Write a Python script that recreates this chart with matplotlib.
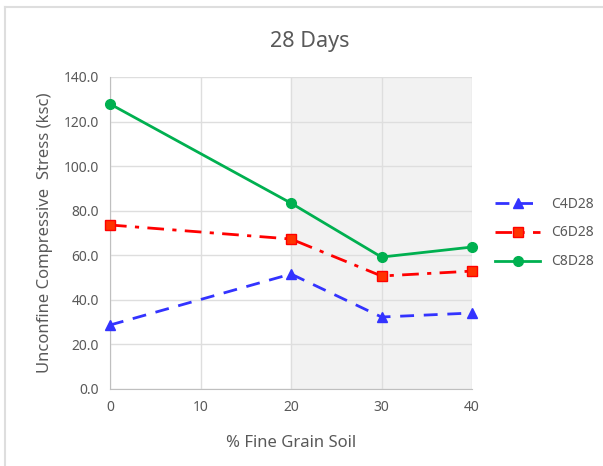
import matplotlib.pyplot as plt
from matplotlib.lines import Line2D

plt.rcParams['font.family'] = ['Noto Sans', 'DejaVu Sans']

fine_soil = [0, 20, 30, 40]
c4d28 = [28.7, 51.6, 32.3, 34.1]
c6d28 = [73.6, 67.3, 50.7, 52.9]
c8d28 = [127.9, 83.4, 59.2, 63.7]

text_col = '#595959'
grid_col = '#dedede'

fig = plt.figure(figsize=(6.03, 4.66), dpi=100)
ax = fig.add_axes([110 / 603, 1 - 389 / 466, 362 / 603, 312 / 466])

# shaded band for the higher fines content
ax.axvspan(20, 40, color='#f2f2f2', zorder=0)

ax.plot(fine_soil, c4d28, color='#3333ff', linestyle=(0, (5, 3.5)), lw=2,
        marker='^', ms=7, label='C4D28', zorder=3)
ax.plot(fine_soil, c6d28, color='#ff0000', linestyle=(0, (6, 3, 1.5, 3)), lw=2,
        marker='s', ms=7, mfc='#ff3300', mec='#ff0000', label='C6D28', zorder=3)
ax.plot(fine_soil, c8d28, color='#00b050', lw=2,
        marker='o', ms=7, label='C8D28', zorder=3)

ax.set_xlim(0, 40)
ax.set_ylim(0, 140)
ax.set_xticks([0, 10, 20, 30, 40])
ax.set_yticks(range(0, 141, 20))
ax.set_yticklabels([f'{v:.1f}' for v in range(0, 141, 20)])
ax.grid(True, color=grid_col, lw=1, zorder=1)
ax.set_axisbelow(True)

for side in ['top', 'right']:
    ax.spines[side].set_visible(False)
for side in ['left', 'bottom']:
    ax.spines[side].set_color('#bfbfbf')
ax.tick_params(length=0, colors=text_col, labelsize=10, pad=8)
for line in ax.get_lines():
    line.set_clip_on(False)

# title is centred on the whole chart, not the plot area
fig.text(310 / 603, 1 - 42 / 466, '28 Days', color=text_col, fontsize=15.5,
         ha='center', va='center')
ax.set_xlabel('% Fine Grain Soil', color=text_col, fontsize=12, labelpad=14)
ax.set_ylabel('Unconfine Compressive  Stress (ksc)', color=text_col,
              fontsize=12, labelpad=8)

ax.legend(loc='center left', bbox_to_anchor=(1.03, 0.5), frameon=False,
          fontsize=10, labelcolor=text_col, handlelength=3.2, labelspacing=1.0)

# outer chart frame
fig.add_artist(Line2D([4.5 / 603, 1], [1 - 6.5 / 466, 1 - 6.5 / 466],
                      color=grid_col, lw=1.5, transform=fig.transFigure))
fig.add_artist(Line2D([4.5 / 603, 4.5 / 603], [0, 1 - 6.5 / 466],
                      color=grid_col, lw=1.5, transform=fig.transFigure))

fig.savefig('out.png', dpi=100)
